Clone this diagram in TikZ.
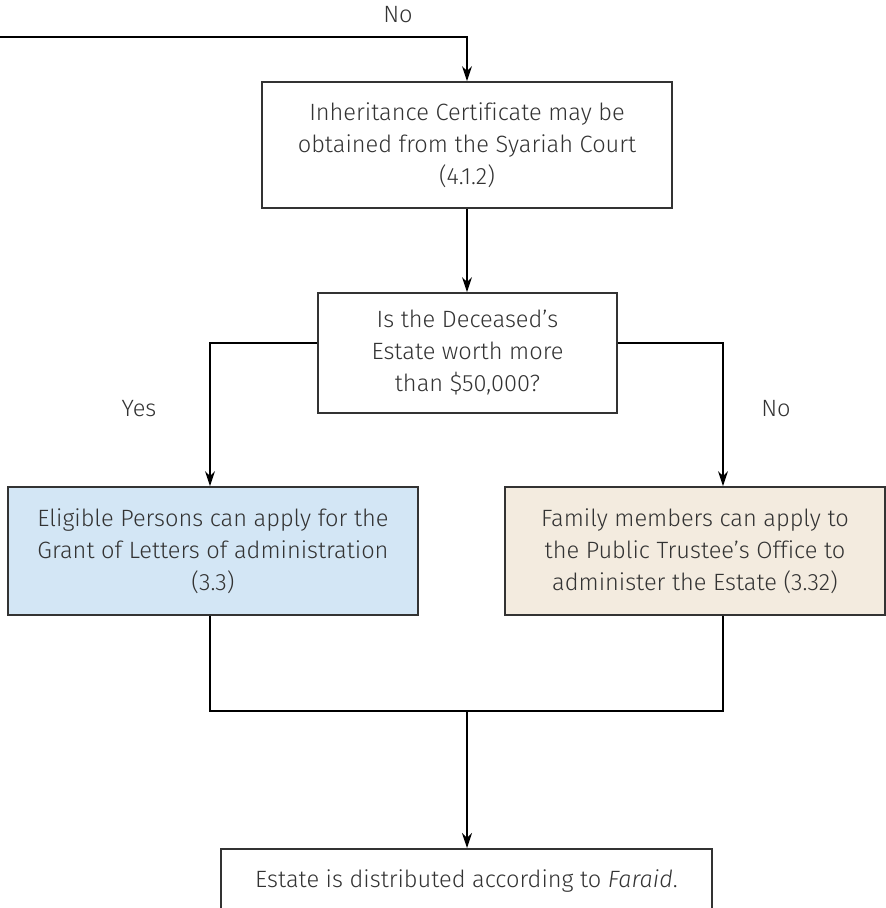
\documentclass[tikz,border=0pt]{standalone}
\usepackage{fontspec}
\setmainfont{Fira Sans}[UprightFont = {* Light}, ItalicFont = {* Light Italic}, Ligatures = CommonOff]
\usepackage{xcolor}
\usetikzlibrary{arrows.meta}

\definecolor{boxline}{HTML}{333333}
\definecolor{labeltext}{HTML}{333333}
\definecolor{grantblue}{HTML}{D3E6F5}
\definecolor{trusteebeige}{HTML}{F3EBDF}

\tikzset{
	stepbox/.style = {draw = boxline, line width = 0.9pt, align = center, text = labeltext, font = \fontsize{11.8}{16}\selectfont, inner sep = 0pt},
	flow/.style = {line width = 0.6pt, -{Stealth[length = 7.5pt, width = 5pt]}},
	mergeline/.style = {line width = 0.6pt},
	answer/.style = {text = labeltext, font = \fontsize{11.8}{13}\selectfont}
}

\begin{document}
	\begin{tikzpicture}[x = 0.5pt, y = -0.5pt]
		\useasboundingbox (0,0) rectangle (886,908);
		\clip (0,0) rectangle (886,908);
		
		\begin{scope}
		\node [stepbox, minimum width = 205pt, minimum height = 63pt] (certificate) at (467,145) {Inheritance Certificate may be\\obtained from the Syariah Court\\(4.1.2)};
		\node [stepbox, minimum width = 149.5pt, minimum height = 60pt] (worth) at (467.5,353) {Is the Deceased's\\Estate worth more\\than \$50,000?};
		\node [stepbox, fill = grantblue, minimum width = 205pt, minimum height = 64pt] (grant) at (213,551) {Eligible Persons can apply for the\\Grant of Letters of administration\\(3.3)};
		\node [stepbox, fill = trusteebeige, minimum width = 190pt, minimum height = 64pt] (trustee) at (695,551) {Family members can apply to\\the Public Trustee's Office to\\administer the Estate (3.32)};
		\node [stepbox, minimum width = 245.5pt, minimum height = 32pt, anchor = north] (faraid) at (466.5,848) {Estate is distributed according to \textit{Faraid}.};
		\end{scope}
		
		\begin{scope}
		\node [answer] (topno) at (398,15) {No};
		\node [answer] (yes) at (139,409) {Yes};
		\node [answer] (rightno) at (776,409) {No};
		\end{scope}
		
		\coordinate (entry) at (0,37);
		\coordinate (merge) at (467,711);
		
		\begin{scope}
		\draw [flow] (entry) -| (certificate.north);
		\draw [flow] (certificate) -- (worth.north -| certificate);
		\draw [flow] (worth.west |- 0,343) -| (grant.north -| 210,0);
		\draw [flow] (worth.east |- 0,343) -| (trustee.north -| 723,0);
		\draw [mergeline] (grant.south -| 210,0) |- (merge) -| (trustee.south -| 723,0);
		\draw [flow] (merge) -- (merge |- faraid.north);
		\end{scope}
	\end{tikzpicture}
\end{document}
